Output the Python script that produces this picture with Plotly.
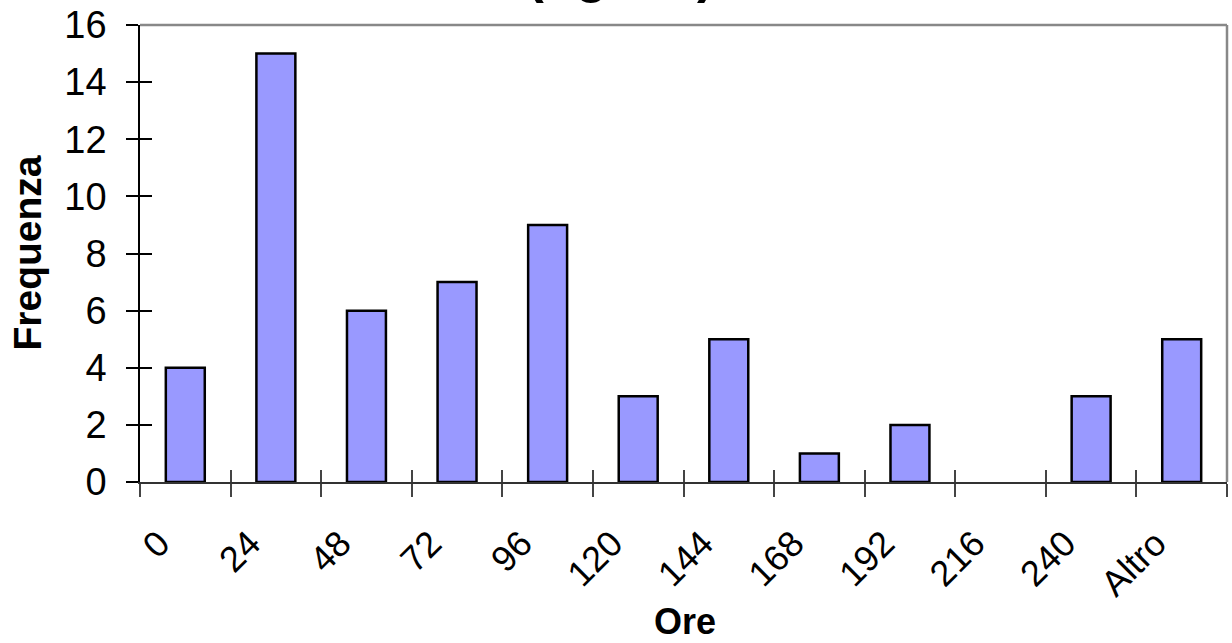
import plotly.graph_objects as go

categories = ["0", "24", "48", "72", "96", "120", "144", "168", "192", "216", "240", "Altro"]
frequenze = [4, 15, 6, 7, 9, 3, 5, 1, 2, 0, 3, 5]
y_ticks = [0, 2, 4, 6, 8, 10, 12, 14, 16]

FONT = "Liberation Sans, Arial, sans-serif"

# the page body margin is removed (see post_script), so figure pixels == screenshot pixels
PL, PT, PR, PB = 140, 25, 1227, 482   # plot-area edges
W, H = 1232, 643
PW, PH = PR - PL, PB - PT

def px(xs):
    return (xs - PL) / PW

def py(ys):
    return (PB - ys) / PH

fig = go.Figure()
fig.add_trace(go.Bar(
    x=categories, y=frequenze,
    marker=dict(color="#9999FF",
                line=dict(color="#000000", width=[2.5 if v > 0 else 0 for v in frequenze])),
    showlegend=False, hoverinfo="x+y",
))
# helper (empty) trace so the inner-tick overlay axes are drawn
fig.add_trace(go.Scatter(x=[], y=[], xaxis="x2", yaxis="y2", showlegend=False))

fig.update_layout(
    width=W, height=H,
    margin=dict(l=PL, r=W - PR, t=PT, b=H - PB, autoexpand=False),
    paper_bgcolor="white", plot_bgcolor="white",
    bargap=0.57,
    font=dict(family=FONT, color="#000000"),
    xaxis=dict(
        type="category", categoryarray=categories, range=[-0.5, 11.5], automargin=False,
        showline=True, linecolor="#333333", linewidth=2,
        ticks="outside", tickson="boundaries", ticklen=13, tickwidth=1.5, tickcolor="#444444",
        tickangle=-45, tickfont=dict(size=36, family=FONT, color="#000000"),
        ticklabelstandoff=24, ticklabelshift=-26, ticklabeloverflow="allow",
        showgrid=False, zeroline=False, fixedrange=True,
    ),
    yaxis=dict(
        range=[0, 16], tickvals=y_ticks, automargin=False,
        showline=True, linecolor="#000000", linewidth=1.5,
        ticks="outside", ticklen=12, tickwidth=1.5, tickcolor="#000000",
        tickfont=dict(size=38, family=FONT, color="#000000"),
        ticklabelstandoff=12, ticklabeloverflow="allow",
        showgrid=False, zeroline=False, fixedrange=True,
    ),
    xaxis2=dict(
        overlaying="x", anchor="y2", range=[-0.5, 11.5], automargin=False,
        tickvals=[i - 0.5 for i in range(len(categories) + 1)],
        ticks="inside", ticklen=12, tickwidth=1.5, tickcolor="#444444",
        showticklabels=False, showgrid=False, zeroline=False, showline=False,
    ),
    yaxis2=dict(
        overlaying="y", anchor="x2", range=[0, 16], tickvals=y_ticks, automargin=False,
        ticks="inside", ticklen=12, tickwidth=1.5, tickcolor="#000000",
        showticklabels=False, showgrid=False, zeroline=False, showline=False,
    ),
    shapes=[
        dict(type="line", xref="paper", yref="paper", x0=0, x1=1, y0=1, y1=1,
             line=dict(color="#888888", width=2.5)),
        dict(type="line", xref="paper", yref="paper", x0=1, x1=1, y0=0, y1=1,
             line=dict(color="#888888", width=2.5)),
    ],
    annotations=[
        dict(text="<b>Istogramma<br>(ugello)</b>", xref="paper", yref="paper",
             x=px(621), y=1.043, xanchor="center", yanchor="bottom",
             showarrow=False, font=dict(size=52, family=FONT, color="#000000")),
        dict(text="<b>Frequenza</b>", xref="paper", yref="paper",
             x=px(27), y=0.5, xanchor="center", yanchor="middle",
             textangle=-90, showarrow=False, borderpad=0,
             font=dict(size=39, family=FONT, color="#000000")),
        dict(text="<b>Ore</b>", xref="paper", yref="paper",
             x=px(685), y=py(643), xanchor="center", yanchor="bottom",
             showarrow=False, borderpad=0,
             font=dict(size=36, family=FONT, color="#000000")),
    ],
)

fig.write_html("out.html", config={"displayModeBar": False},
               post_script="document.body.style.margin='0px';")
